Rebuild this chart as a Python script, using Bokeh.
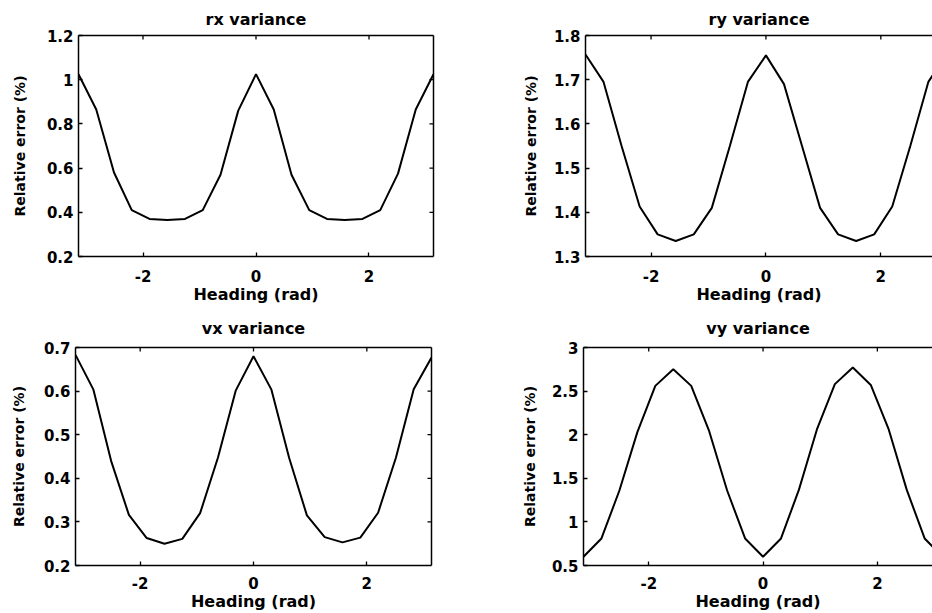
from bokeh.plotting import figure
from bokeh.layouts import column, row
from bokeh.models import FixedTicker, LinearAxis, Range1d
from bokeh.embed import file_html
from bokeh.resources import INLINE

# Heading samples (rad), every 18 degrees from -pi to pi
heading = [-3.1416, -2.8274, -2.5133, -2.1991, -1.8850, -1.5708, -1.2566,
           -0.9425, -0.6283, -0.3142, 0.0, 0.3142, 0.6283, 0.9425, 1.2566,
           1.5708, 1.8850, 2.1991, 2.5133, 2.8274, 3.1416]

rx_var = [1.025, 0.865, 0.58, 0.41, 0.37, 0.365, 0.37, 0.41, 0.57, 0.86, 1.025,
          0.865, 0.57, 0.41, 0.37, 0.365, 0.37, 0.41, 0.575, 0.865, 1.025]
ry_var = [1.757, 1.695, 1.55, 1.413, 1.35, 1.335, 1.35, 1.41, 1.55, 1.695, 1.755,
          1.69, 1.55, 1.41, 1.35, 1.335, 1.35, 1.413, 1.55, 1.695, 1.757]
vx_var = [0.683, 0.604, 0.44, 0.316, 0.263, 0.25, 0.261, 0.32, 0.447, 0.601, 0.68,
          0.604, 0.447, 0.315, 0.265, 0.253, 0.264, 0.321, 0.447, 0.604, 0.677]
vy_var = [0.6, 0.81, 1.36, 2.03, 2.56, 2.75, 2.56, 2.04, 1.36, 0.81, 0.6,
          0.81, 1.37, 2.06, 2.58, 2.77, 2.57, 2.06, 1.37, 0.81, 0.6]

titles = ["rx variance", "ry variance", "vx variance", "vy variance"]
x_label = "Heading (rad)"
y_label = "Relative error (%)"

x_ticks = [-2, 0, 2]
x_tick_labels = ["-2", "0", "2"]

rx_ticks = [0.2, 0.4, 0.6, 0.8, 1.0, 1.2]
rx_tick_labels = ["0.2", "0.4", "0.6", "0.8", "1", "1.2"]
ry_ticks = [1.3, 1.4, 1.5, 1.6, 1.7, 1.8]
ry_tick_labels = ["1.3", "1.4", "1.5", "1.6", "1.7", "1.8"]
vx_ticks = [0.2, 0.3, 0.4, 0.5, 0.6, 0.7]
vx_tick_labels = ["0.2", "0.3", "0.4", "0.5", "0.6", "0.7"]
vy_ticks = [0.5, 1.0, 1.5, 2.0, 2.5, 3.0]
vy_tick_labels = ["0.5", "1", "1.5", "2", "2.5", "3"]

FONT = "DejaVu Sans"
X_START = -3.1416
TICK_PX = 4


def style_axis(ax, ticks, labels):
    ax.ticker = FixedTicker(ticks=ticks)
    ax.major_label_overrides = {t: l for t, l in zip(ticks, labels)}
    ax.major_tick_in = TICK_PX
    ax.major_tick_out = 0
    ax.minor_tick_line_color = None
    ax.axis_line_color = "black"
    ax.axis_line_width = 1.5
    ax.major_tick_line_color = "black"
    ax.major_tick_line_width = 1.3
    ax.major_label_text_font = FONT
    ax.major_label_text_font_size = "15px"
    ax.major_label_text_font_style = "bold"
    ax.major_label_text_color = "black"
    ax.axis_label_text_font = FONT
    ax.axis_label_text_font_style = "bold"
    ax.axis_label_text_color = "black"


def border_axis():
    ax = LinearAxis(ticker=FixedTicker(ticks=[]))
    ax.axis_label = None
    ax.axis_line_color = "black"
    ax.axis_line_width = 1.5
    ax.major_tick_line_color = None
    ax.minor_tick_line_color = None
    return ax


def make_panel(title, ys, y_ticks, y_labels, x_end, width, height,
               b_left, b_right, b_top, b_bottom, right_box,
               tick_standoff, ylab_standoff, title_standoff):
    y0, y1 = y_ticks[0], y_ticks[-1]
    p = figure(width=width, height=height,
               x_range=Range1d(X_START, x_end),
               y_range=Range1d(y0, y1),
               output_backend="svg", toolbar_location=None,
               min_border_left=b_left, min_border_right=b_right,
               min_border_top=b_top, min_border_bottom=b_bottom,
               title=title)
    p.outline_line_color = None
    p.grid.visible = False
    p.background_fill_color = "white"
    p.border_fill_color = "white"
    p.title.text_font = FONT
    p.title.text_font_size = "16px"
    p.title.text_font_style = "bold"
    p.title.text_color = "black"
    p.title.align = "center"
    p.title.standoff = title_standoff

    xa = p.xaxis[0]
    style_axis(xa, x_ticks, x_tick_labels)
    xa.axis_label = x_label
    xa.axis_label_text_font_size = "16px"
    xa.major_label_standoff = tick_standoff
    xa.axis_label_standoff = 0

    ya = p.yaxis[0]
    style_axis(ya, y_ticks, y_labels)
    ya.axis_label = y_label
    ya.axis_label_text_font_size = "14px"
    ya.major_label_standoff = 5
    ya.axis_label_standoff = ylab_standoff

    p.add_layout(border_axis(), "above")
    if right_box:
        p.add_layout(border_axis(), "right")

    # inward tick marks on the top (and right) border, derived from the ticks
    frame_w = width - b_left - b_right
    frame_h = height - b_top - b_bottom
    dy = (y1 - y0) * TICK_PX / frame_h
    dx = (x_end - X_START) * TICK_PX / frame_w
    p.segment(x0=x_ticks, y0=[y1] * len(x_ticks), x1=x_ticks,
              y1=[y1 - dy] * len(x_ticks), line_color="black", line_width=1.3)
    if right_box:
        inner = y_ticks[1:-1]
        p.segment(x0=[x_end] * len(inner), y0=inner,
                  x1=[x_end - dx] * len(inner), y1=inner,
                  line_color="black", line_width=1.3)

    p.line(heading, ys, line_color="black", line_width=2)
    return p


p1 = make_panel(titles[0], rx_var, rx_ticks, rx_tick_labels, 3.1416,
                500, 306, 78, 67, 35, 49, True, 13, 16, 14)
p2 = make_panel(titles[1], ry_var, ry_ticks, ry_tick_labels, 2.90,
                432, 306, 85, 0, 35, 49, False, 13, 12, 14)
p3 = make_panel(titles[2], vx_var, vx_ticks, vx_tick_labels, 3.1416,
                500, 307, 75, 69, 40, 48, True, 11, 14, 20)
p4 = make_panel(titles[3], vy_var, vy_ticks, vy_tick_labels, 2.965,
                432, 307, 83, 0, 40, 48, False, 11, 11, 20)

layout = column(row(p1, p2), row(p3, p4))

open("out.html", "w").write(file_html(layout, INLINE))
